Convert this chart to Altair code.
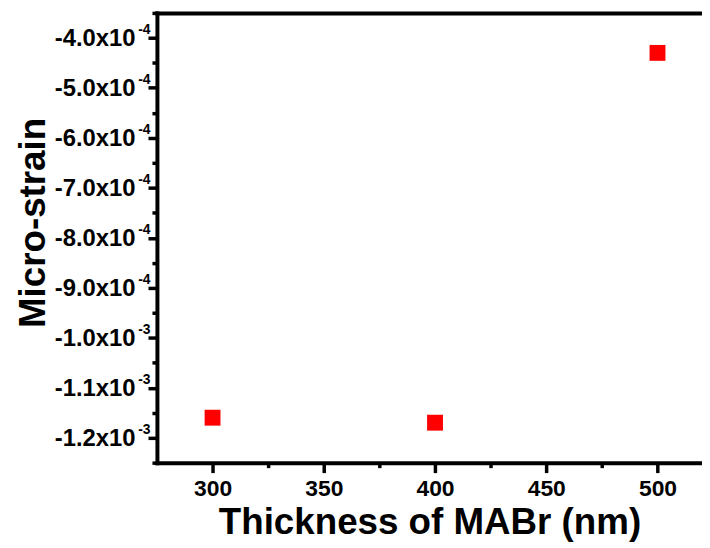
import altair as alt
import pandas as pd

# ---- data ----
thickness = [300, 400, 500]
strain = [-1.16e-3, -1.17e-3, -4.3e-4]

x_domain = [275, 520]
y_domain = [-1.25e-3, -3.5e-4]
x_major = [300, 350, 400, 450, 500]
x_minor = [325, 375, 425, 475]
y_major = [-1.2e-3, -1.1e-3, -1.0e-3, -9.0e-4, -8.0e-4, -7.0e-4, -6.0e-4, -5.0e-4, -4.0e-4]
y_minor = [-1.25e-3, -1.15e-3, -1.05e-3, -9.5e-4, -8.5e-4, -7.5e-4, -6.5e-4, -5.5e-4, -4.5e-4, -3.5e-4]

x_title = "Thickness of MABr (nm)"
y_title = "Micro-strain"

df = pd.DataFrame({"t": thickness, "s": strain})
FONT = "Liberation Sans"

xs = alt.Scale(domain=x_domain, nice=False, zero=False)
ys = alt.Scale(domain=y_domain, nice=False, zero=False)

main_label = ("'-' + format(abs(datum.value) >= 0.00099 ? abs(datum.value)*1000 : "
              "abs(datum.value)*10000, '.1f') + 'x10'")
exp_label = "abs(datum.value) >= 0.00099 ? '-3' : '-4'"

main = alt.Chart(df).mark_square(size=256, color="#ff0000", opacity=1).encode(
    x=alt.X("t:Q", scale=xs, axis=alt.Axis(
        orient="bottom", values=x_major, format="d", title=x_title,
        domainColor="black", domainWidth=4, domainCap="square",
        tickColor="black", tickWidth=3.5, tickSize=10,
        labelFont=FONT, labelFontSize=23, labelFontWeight="bold", labelColor="black",
        labelPadding=5,
        titleFont=FONT, titleFontSize=37, titleFontWeight="bold", titleColor="black",
        titleBaseline="alphabetic", titleY=71, grid=False)),
    y=alt.Y("s:Q", scale=ys, axis=alt.Axis(
        orient="left", values=y_major, labelExpr=main_label, title=y_title,
        domainColor="black", domainWidth=4, domainCap="square",
        tickColor="black", tickWidth=3.5, tickSize=9,
        labelFont=FONT, labelFontSize=24, labelFontWeight="bold", labelColor="black",
        labelPadding=13, labelBaseline="middle", labelOffset=1,
        titleFont=FONT, titleFontSize=37, titleFontWeight="bold", titleColor="black",
        titleBaseline="alphabetic", titleX=-113, titleY=211, grid=False)),
)

ghost = alt.Chart(df).mark_square(size=256, opacity=0)

exp_layer = ghost.encode(
    x=alt.X("t:Q", scale=xs, axis=alt.Axis(
        orient="bottom", values=x_minor, labels=False, domain=False,
        tickSize=5, tickWidth=3.5, tickColor="black", title=None, grid=False)),
    y=alt.Y("s:Q", scale=ys, axis=alt.Axis(
        orient="left", values=y_major, labelExpr=exp_label, ticks=False, tickSize=0,
        domain=False, labelFont=FONT, labelFontSize=14, labelFontWeight="bold",
        labelColor="black", labelOffset=-8, labelPadding=7, labelBaseline="middle",
        title=None, grid=False)),
)

frame_layer = ghost.encode(
    x=alt.X("t:Q", scale=xs, axis=alt.Axis(
        orient="top", ticks=False, labels=False, domainWidth=4, domainColor="black",
        domainCap="square", title=None, grid=False)),
    y=alt.Y("s:Q", scale=ys, axis=alt.Axis(
        orient="left", values=y_minor, labels=False, domain=False,
        tickSize=5, tickWidth=3.5, tickColor="black", title=None, grid=False)),
)

chart = alt.layer(main, exp_layer, frame_layer).resolve_axis(
    x="independent", y="independent"
).properties(
    width=549, height=453,
    autosize=alt.AutoSizeParams(type="none"),
    padding={"left": 150, "top": 3, "right": 0, "bottom": 84},
    background="white",
).configure_view(stroke=None)

chart.save("out.html", embed_options={"renderer": "svg", "actions": False})
